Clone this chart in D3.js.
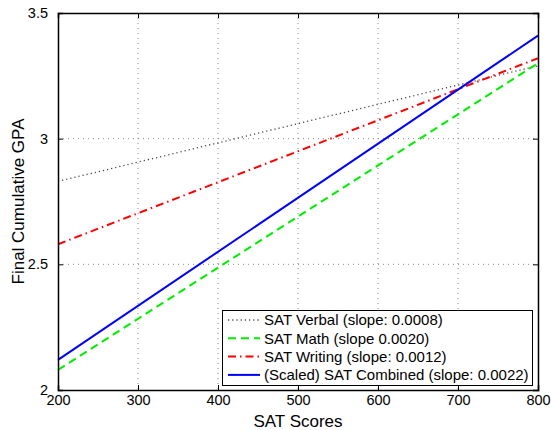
<!DOCTYPE html>
<html>
<head>
<meta charset="utf-8">
<script src="https://cdn.jsdelivr.net/npm/d3@7"></script>
<style>
  body { margin: 0; background: #fff; }
  text { font-family: "Liberation Sans", Arial, Helvetica, sans-serif; fill: #000; }
</style>
</head>
<body>
<script>
// data: fitted GPA at both ends of the SAT range
var satScores = [200, 800];
var seriesNames = ['SAT Verbal (slope: 0.0008)', 'SAT Math (slope 0.0020)',
                   'SAT Writing (slope: 0.0012)', '(Scaled) SAT Combined (slope: 0.0022)'];
var verbalGPA = [2.83, 3.29];
var mathGPA = [2.08, 3.30];
var writingGPA = [2.58, 3.32];
var combinedGPA = [2.12, 3.41];
var xTicks = [200, 300, 400, 500, 600, 700, 800];
var yTicks = [2, 2.5, 3, 3.5];

var seriesValues = [verbalGPA, mathGPA, writingGPA, combinedGPA];
var seriesColors = ['#444', '#00ee00', '#ff0000', '#0000ff'];
var seriesDash = ['1.2,3', '8,5', '8,4,1.5,4', null];
var seriesWidth = [1.3, 2, 2, 2];

var width = 551, height = 430;
var plotLeft = 58, plotRight = 538, plotTop = 13, plotBottom = 390;

var svg = d3.select("body").append("svg")
    .attr("width", width)
    .attr("height", height);

var x = d3.scaleLinear().domain([200, 800]).range([plotLeft, plotRight]);
var y = d3.scaleLinear().domain([2, 3.5]).range([plotBottom, plotTop]);

// grid (dotted, only inner ticks)
var grid = svg.append("g").attr("class", "grid");
grid.selectAll("line.gx")
    .data(xTicks.slice(1, -1))
    .enter().append("line")
    .attr("x1", function(d) { return x(d); })
    .attr("x2", function(d) { return x(d); })
    .attr("y1", plotTop).attr("y2", plotBottom);
grid.selectAll("line.gy")
    .data(yTicks.slice(1, -1))
    .enter().append("line")
    .attr("y1", function(d) { return y(d); })
    .attr("y2", function(d) { return y(d); })
    .attr("x1", plotLeft).attr("x2", plotRight);
grid.selectAll("line")
    .attr("stroke", "#888")
    .attr("stroke-width", 1)
    .attr("stroke-dasharray", "1,4");

// data lines
var line = d3.line()
    .x(function(d) { return x(d[0]); })
    .y(function(d) { return y(d[1]); });

svg.append("g")
    .selectAll("path")
    .data(seriesValues)
    .enter().append("path")
    .attr("d", function(d) { return line(d3.zip(satScores, d)); })
    .attr("fill", "none")
    .attr("stroke", function(d, i) { return seriesColors[i]; })
    .attr("stroke-width", function(d, i) { return seriesWidth[i]; })
    .attr("stroke-dasharray", function(d, i) { return seriesDash[i]; });

// axes, ticks inward on all four sides
var tickLen = -5;
svg.append("g")
    .attr("transform", "translate(0," + plotBottom + ")")
    .call(d3.axisBottom(x).tickValues(xTicks).tickSize(tickLen).tickPadding(5));
svg.append("g")
    .attr("transform", "translate(0," + plotTop + ")")
    .call(d3.axisTop(x).tickValues(xTicks).tickSize(tickLen).tickFormat(""));
svg.append("g")
    .attr("transform", "translate(" + plotLeft + ",0)")
    .call(d3.axisLeft(y).tickValues(yTicks).tickSize(tickLen).tickPadding(10).tickFormat(d3.format("")));
svg.append("g")
    .attr("transform", "translate(" + plotRight + ",0)")
    .call(d3.axisRight(y).tickValues(yTicks).tickSize(tickLen).tickFormat(""));

svg.selectAll(".domain").attr("stroke", "#000").attr("stroke-width", 1.5);
svg.selectAll(".tick line").attr("stroke", "#000").attr("stroke-width", 1);
svg.selectAll(".tick text")
    .style("font-family", '"Liberation Sans", Arial, sans-serif')
    .style("font-size", "14.5px")
    .attr("fill", "#000");

// axis titles
svg.append("text")
    .attr("x", (plotLeft + plotRight) / 2)
    .attr("y", 427)
    .attr("text-anchor", "middle")
    .style("font-size", "17px")
    .text("SAT Scores");
svg.append("text")
    .attr("transform", "translate(24," + (plotTop + plotBottom) / 2 + ") rotate(-90)")
    .attr("text-anchor", "middle")
    .style("font-size", "17px")
    .text("Final Cumulative GPA");

// legend
var legend = svg.append("g");
legend.append("rect")
    .attr("x", 222.5).attr("y", 310.5)
    .attr("width", 310).attr("height", 75)
    .attr("fill", "#fff")
    .attr("stroke", "#000")
    .attr("stroke-width", 1);

var rows = legend.selectAll("g.row")
    .data(seriesNames)
    .enter().append("g")
    .attr("transform", function(d, i) { return "translate(0," + (320 + i * 18.3) + ")"; });
rows.append("line")
    .attr("x1", 228).attr("x2", 260)
    .attr("y1", 0).attr("y2", 0)
    .attr("stroke", function(d, i) { return seriesColors[i]; })
    .attr("stroke-width", function(d, i) { return seriesWidth[i]; })
    .attr("stroke-dasharray", function(d, i) { return seriesDash[i]; });
rows.append("text")
    .attr("x", 264)
    .attr("y", 0)
    .attr("dy", "0.36em")
    .style("font-size", "15px")
    .text(function(d) { return d; });
</script>
</body>
</html>
